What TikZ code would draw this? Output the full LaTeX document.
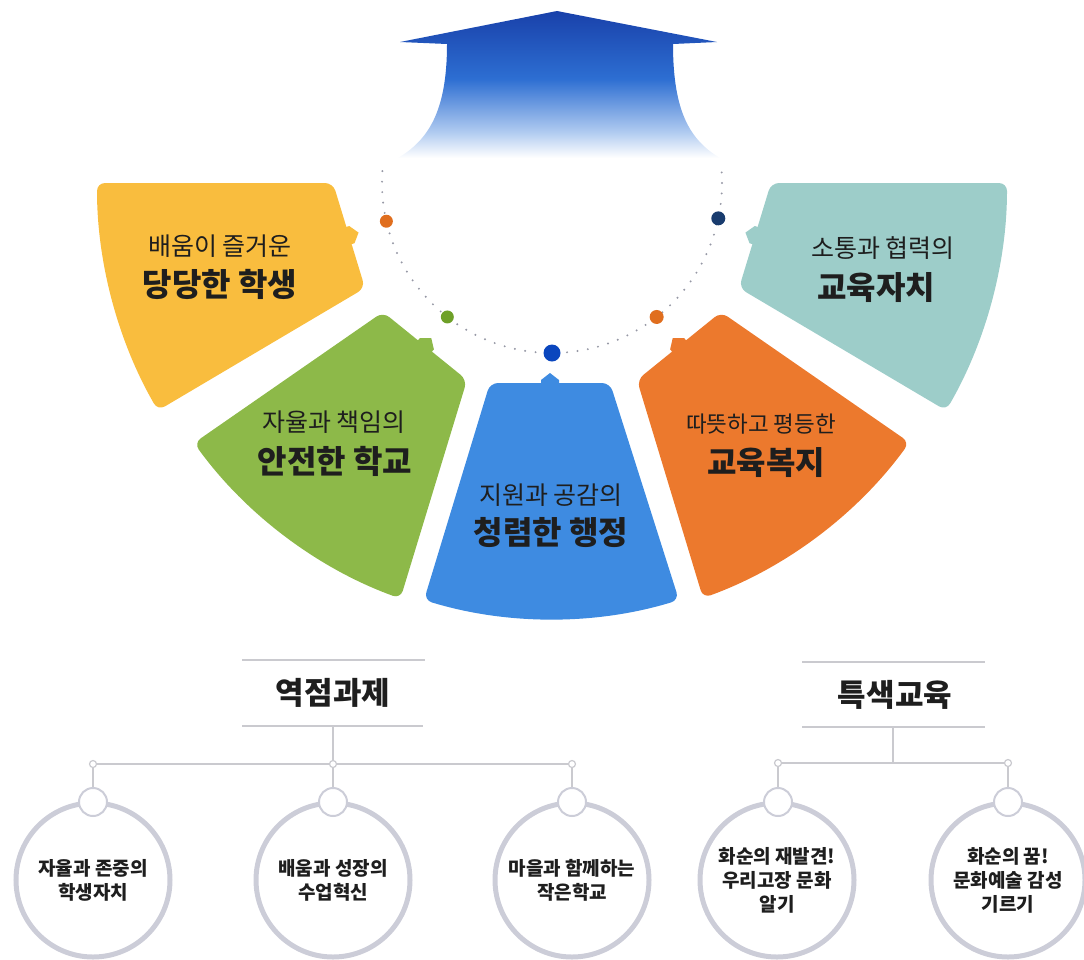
\documentclass[tikz,border=0pt]{standalone}
\usepackage{fontspec}
\setmainfont{Noto Sans CJK KR}
\usetikzlibrary{positioning, calc}

\definecolor{segyellow}{RGB}{249,189,62}
\definecolor{seggreen}{RGB}{141,185,73}
\definecolor{segblue}{RGB}{62,139,225}
\definecolor{segorange}{RGB}{236,121,45}
\definecolor{segteal}{RGB}{157,205,201}
\definecolor{dotorange}{RGB}{224,110,30}
\definecolor{dotgreen}{RGB}{110,160,40}
\definecolor{dotblue}{RGB}{10,70,190}
\definecolor{dotnavy}{RGB}{25,60,110}
\definecolor{dotgray}{RGB}{150,152,165}
\definecolor{arrowtop}{RGB}{25,65,170}
\definecolor{arrowmid}{RGB}{45,110,210}
\definecolor{arrowlight}{RGB}{175,202,240}
\definecolor{ringgray}{RGB}{204,205,216}
\definecolor{linkgray}{RGB}{202,202,207}
\definecolor{txtdark}{RGB}{30,30,30}

\pgfdeclareverticalshading{arrowfade}{100bp}{color(0bp)=(white); color(25bp)=(white); color(34bp)=(arrowlight); color(52bp)=(arrowmid); color(75bp)=(arrowtop); color(100bp)=(arrowtop)}

% small bump on the inner edge of a fan piece
\newcommand{\segnotch}[3]{%
  \path ($(#1)!0.5!(#2)$) coordinate (nm)
        ($(nm)!9pt!(#1)$) coordinate (na)
        ($(nm)!9pt!(#2)$) coordinate (nb);
  \fill[#3] ($(na)!-2pt!90:(nm)$) -- ($(na)!3pt!90:(nm)$) -- ($(nm)!10pt!90:(#2)$)
            -- ($(nb)!3pt!-90:(nm)$) -- ($(nb)!-2pt!-90:(nm)$) -- cycle;
}

\tikzset{
  seg/.style={rounded corners=8pt},
  subline/.style={font=\fontsize{25}{30}\selectfont, text=txtdark, inner sep=0pt},
  mainline/.style={font=\fontsize{32}{38}\selectfont\bfseries, text=txtdark, inner sep=0pt},
  dotline/.style={draw=dotgray, line width=2.2pt, line cap=round, dash pattern=on 0pt off 10.5pt},
  header/.style={font=\fontsize{31}{36}\selectfont\bfseries, text=txtdark, inner sep=0pt},
  rule/.style={draw=linkgray, line width=2pt},
  link/.style={draw=linkgray, line width=1.6pt},
  joint/.style={circle, draw=linkgray, line width=1.2pt, fill=white, minimum size=7pt, inner sep=0pt},
  ring/.style={circle, draw=ringgray, line width=5pt, minimum size=154pt, inner sep=0pt,
    align=center, font=\fontsize{19}{24}\selectfont\bfseries, text=txtdark},
  knob/.style={circle, draw=ringgray, line width=2pt, fill=white, minimum size=28pt, inner sep=0pt},
}

\begin{document}
\begin{tikzpicture}[x=1pt, y=-1pt]
  \useasboundingbox (0,0) rectangle (1084,959);

  % arrow
  \shade[shading=arrowfade] (400,42) -- (557,11) -- (717,42) -- (673,44)
    .. controls (673,112) and (690,140) .. (720,158) -- (398,158)
    .. controls (428,140) and (447,112) .. (447,44) -- cycle;

  % fan pieces
  \coordinate (y-in1) at (333,183);
  \coordinate (y-in2) at (365,288);
  \fill[segyellow, seg] (y-in1) -- (97,183) arc[start angle=180, end angle=150, radius=455] -- (y-in2) -- cycle;
  \segnotch{y-in1}{y-in2}{segyellow}

  \coordinate (g-in1) at (383,312);
  \coordinate (g-in2) at (467,380);
  \fill[seggreen, seg] (g-in1) -- (194,443) arc[start angle=144, end angle=110, radius=442] -- (g-in2) -- cycle;
  \segnotch{g-in1}{g-in2}{seggreen}

  \coordinate (b-in1) at (490,383);
  \coordinate (b-in2) at (610,383);
  \fill[segblue, seg] (b-in1) -- (424,600) arc[start angle=107, end angle=73, radius=436] -- (b-in2) -- cycle;
  \segnotch{b-in1}{b-in2}{segblue}

  \coordinate (o-in1) at (637,380);
  \coordinate (o-in2) at (721,312);
  \fill[segorange, seg] (o-in1) -- (703,598) arc[start angle=70, end angle=36, radius=442] -- (o-in2) -- cycle;
  \segnotch{o-in1}{o-in2}{segorange}

  \coordinate (t-in1) at (739,288);
  \coordinate (t-in2) at (771,183);
  \fill[segteal, seg] (t-in2) -- (1007,183) arc[start angle=0, end angle=30, radius=455] -- (t-in1) -- cycle;
  \segnotch{t-in1}{t-in2}{segteal}

  % dotted ring and its dots
  \draw[dotline] (552,183) ++(184:170) arc[start angle=184, end angle=-4, radius=170];
  \foreach \ang/\col/\rad in {167/dotorange/6.5, 128/dotgreen/6.5, 90/dotblue/8.5, 52/dotorange/7, 12/dotnavy/7}
    \fill[\col] (552,183) ++(\ang:170) circle[radius=\rad];

  % texts on the pieces
  \node[subline] (y-sub) at (220,246) {배움이 즐거운};
  \node[mainline] (y-main) at (220,284) {당당한 학생};
  \node[subline] (g-sub) at (334,422) {자율과 책임의};
  \node[mainline] (g-main) at (335,461) {안전한 학교};
  \node[subline] (b-sub) at (551,495) {지원과 공감의};
  \node[mainline] (b-main) at (551,533) {청렴한 행정};
  \node[subline, font=\fontsize{22.5}{27}\selectfont] (o-sub) at (761,424) {따뜻하고 평등한};
  \node[mainline] (o-main) at (766,463) {교육복지};
  \node[subline] (t-sub) at (883,248) {소통과 협력의};
  \node[mainline] (t-main) at (876,288) {교육자치};

  % key tasks
  \node[header] (task) at (333,693) {역점과제};
  \draw[rule] (242,660) -- (425,660);
  \draw[rule] (242,726) -- (423,726);
  \coordinate (task-foot) at (333,727);
  \node[joint] (tj1) at (93,764) {};
  \node[joint] (tj2) at (333,764) {};
  \node[joint] (tj3) at (572,764) {};
  \node[ring] (tc1) at (93,880) {자율과 존중의\\학생자치};
  \node[ring] (tc2) at (333,880) {배움과 성장의\\수업혁신};
  \node[ring] (tc3) at (572,880) {마을과 함께하는\\작은학교};
  \node[knob] (tk1) at (93,802) {};
  \node[knob] (tk2) at (333,802) {};
  \node[knob] (tk3) at (572,802) {};
  \draw[link] (task-foot) -- (tj2);
  \draw[link] (tj1) -- (tj2);
  \draw[link] (tj2) -- (tj3);
  \draw[link] (tj1) -- (tk1);
  \draw[link] (tj2) -- (tk2);
  \draw[link] (tj3) -- (tk3);

  % special programmes
  \node[header] (spec) at (895,695) {특색교육};
  \draw[rule] (802,662) -- (985,662);
  \draw[rule] (802,727) -- (985,727);
  \coordinate (spec-foot) at (893,728);
  \coordinate (sj0) at (893,763);
  \node[joint] (sj1) at (778,763) {};
  \node[joint] (sj2) at (1008,763) {};
  \node[ring] (sc1) at (777,880) {화순의 재발견!\\우리고장 문화\\알기};
  \node[ring] (sc2) at (1008,880) {화순의 꿈!\\문화예술 감성\\기르기};
  \node[knob] (sk1) at (778,802) {};
  \node[knob] (sk2) at (1008,802) {};
  \draw[link] (spec-foot) -- (sj0);
  \draw[link] (sj1) -- (sj2);
  \draw[link] (sj1) -- (sk1);
  \draw[link] (sj2) -- (sk2);
\end{tikzpicture}
\end{document}
